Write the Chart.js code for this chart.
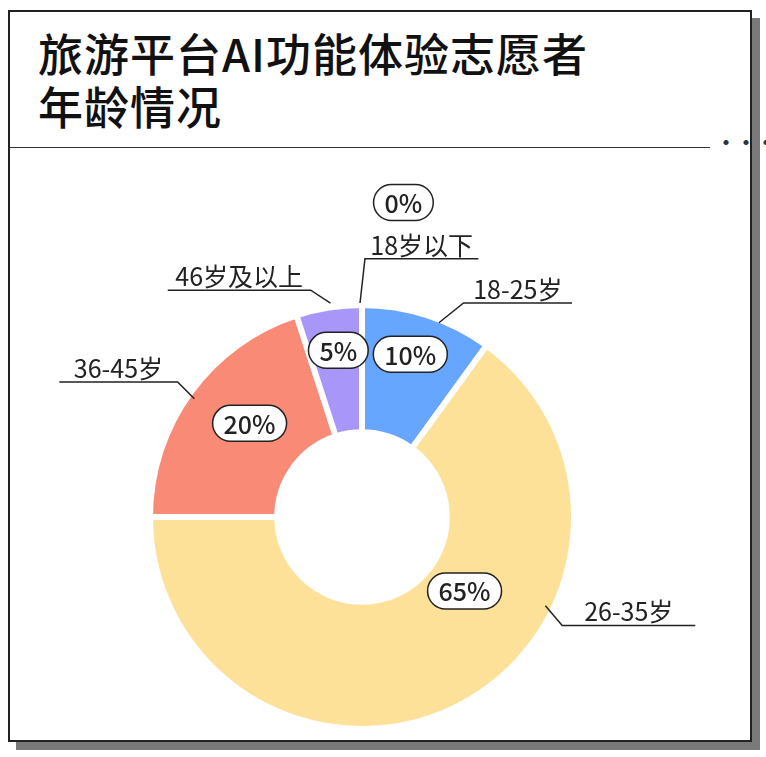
<!DOCTYPE html>
<html><head><meta charset="utf-8">
<script src="https://cdn.jsdelivr.net/npm/chart.js@4"></script>
<style>
body{margin:0;width:766px;height:757px;background:#fff;position:relative;overflow:hidden;font-family:"Noto Sans CJK SC",sans-serif}
#shadow{position:absolute;left:16px;top:18px;width:744px;height:732px;background:#7a7a7a}
#card{position:absolute;left:8px;top:10px;width:740px;height:728px;background:#fff;border:2px solid #222}
#title{position:absolute;left:28px;top:14px;font-size:45px;font-weight:500;line-height:53px;color:#111;letter-spacing:1px}
#divider{position:absolute;left:0;top:135px;width:700px;height:0;border-top:1.5px solid #333}
#dots{position:absolute;left:706px;top:120px;font-size:20px;line-height:20px;color:#333;font-weight:700}
canvas{position:absolute;left:0;top:0}
</style></head><body>
<div id="shadow"></div>
<div id="card"><div id="title">旅游平台AI功能体验志愿者<br>年龄情况</div><div id="divider"></div><div id="dots">•••</div></div>
<canvas id="c" width="766" height="757"></canvas>
<script>
const categories=["18岁以下","18-25岁","26-35岁","36-45岁","46岁及以上"];
const values=[0,10,65,20,5];
const colors=["#a996f9","#66a6ff","#fde199","#f98b76","#a996f9"];
const pills=[[42,-319],[49,-165],[104,75],[-114,-95],[-24,-169]];
const leaders=[
 [[-2,-217],[3,-262],[118,-262]],
 [[78,-197],[103,-217],[213,-217]],
 [[186,90],[203,110],[338,110]],
 [[-170,-120],[-187,-137],[-307,-137]],
 [[-32,-217],[-52,-230],[-197,-230]]
];
const labelPlugin={id:'lbl',afterDatasetsDraw(chart){
 const ctx=chart.ctx;const arc=chart.getDatasetMeta(0).data[0];
 const cx=arc.x,cy=arc.y,s=arc.outerRadius/215;
 ctx.save();ctx.strokeStyle='#222';ctx.lineWidth=1.5;
 ctx.font='400 25px "Noto Sans CJK SC"';ctx.fillStyle='#222';
 leaders.forEach((l,i)=>{
  ctx.beginPath();l.forEach((p,j)=>{const x=cx+p[0]*s,y=cy+p[1]*s;j?ctx.lineTo(x,y):ctx.moveTo(x,y);});ctx.stroke();
  const a=l[1],b=l[2];ctx.textAlign='center';ctx.textBaseline='bottom';
  ctx.fillText(categories[i],cx+(a[0]+b[0])/2*s,cy+b[1]*s-1);
 });
 ctx.font='500 25px "Noto Sans CJK SC"';ctx.textBaseline='middle';
 pills.forEach((p,i)=>{
  const t=values[i]+'%';const w=ctx.measureText(t).width+22,h=36;
  const x=cx+p[0]*s,y=cy+p[1]*s;
  ctx.beginPath();ctx.roundRect(x-w/2,y-h/2,w,h,h/2);ctx.fillStyle='#fff';ctx.fill();ctx.lineWidth=1.5;ctx.stroke();
  ctx.fillStyle='#222';ctx.fillText(t,x,y+1);
 });
 ctx.restore();
}};
new Chart(document.getElementById('c'),{type:'doughnut',
 data:{labels:categories,datasets:[{data:values,backgroundColor:colors,borderColor:'#fff',borderWidth:6}]},
 options:{responsive:false,animation:false,cutout:'40%',rotation:0,
  layout:{padding:{left:147,right:189,top:302,bottom:25}},
  plugins:{legend:{display:false},tooltip:{enabled:false}}},
 plugins:[labelPlugin]});
</script></body></html>
